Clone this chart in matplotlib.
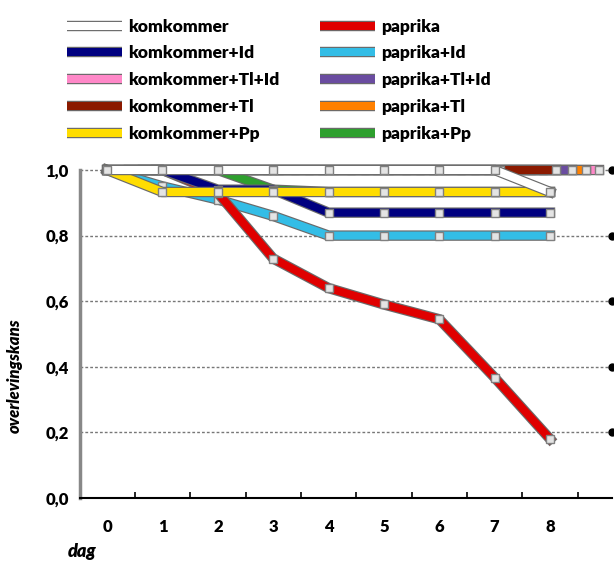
import matplotlib
matplotlib.use('Agg')
import matplotlib.pyplot as plt
import matplotlib.patheffects as pe
from matplotlib.lines import Line2D
from matplotlib.ticker import FixedLocator, FuncFormatter

plt.rcParams['font.family'] = ['Lato', 'DejaVu Sans']
plt.rcParams['font.weight'] = 'heavy'

# dagen en overlevingskans per behandeling
dagen = [0, 1, 2, 3, 4, 5, 6, 7, 8]
namen = ['komkommer', 'komkommer+Id', 'komkommer+Tl+Id', 'komkommer+Tl', 'komkommer+Pp',
         'paprika', 'paprika+Id', 'paprika+Tl+Id', 'paprika+Tl', 'paprika+Pp']
komkommer = [1, 1, 1, 1, 1, 1, 1, 1, 0.933]
komkommer_id = [1, 1, 0.94, 0.94, 0.87, 0.87, 0.87, 0.87, 0.87]
komkommer_tl_id = [1, 1, 1, 1, 1, 1, 1, 1, 1]
komkommer_tl = [1, 1, 1, 1, 1, 1, 1, 1, 1]
komkommer_pp = [1, 0.933, 0.933, 0.933, 0.933, 0.933, 0.933, 0.933, 0.933]
paprika = [1, 1, 0.93, 0.73, 0.64, 0.59, 0.545, 0.367, 0.18]
paprika_id = [1, 0.95, 0.91, 0.86, 0.8, 0.8, 0.8, 0.8, 0.8]
paprika_tl_id = [1, 1, 1, 1, 1, 1, 1, 1, 1]
paprika_tl = [1, 1, 1, 1, 1, 1, 1, 1, 1]
paprika_pp = [1, 1, 1, 0.94, 0.933, 0.933, 0.933, 0.933, 0.933]
yticks = [0.0, 0.2, 0.4, 0.6, 0.8, 1.0]

reeksen = [komkommer, komkommer_id, komkommer_tl_id, komkommer_tl, komkommer_pp,
           paprika, paprika_id, paprika_tl_id, paprika_tl, paprika_pp]
kleuren = ['#ffffff', '#000080', '#ff88c8', '#8b1a00', '#ffdd00',
           '#e00000', '#33bde6', '#6a4ca0', '#ff8000', '#2ea02e']
# diepte-verschuiving (3D effect) en tekenvolgorde, achter naar voor
diepte = [0, 0, 0.88, 0.1, 0, 0, 0, 0.4, 0.65, 0]
volgorde = [2, 8, 7, 3, 9, 6, 5, 1, 4, 0]

fig = plt.figure(figsize=(6.14, 5.66), dpi=100)
ax = fig.add_axes([80 / 614, 1 - 498 / 566, (612 - 80) / 614, (498 - 170) / 566])

rand = [pe.Stroke(linewidth=7.5, foreground='#6a6a6a'), pe.Normal()]

for i in volgorde:
    xs = [d + diepte[i] for d in dagen]
    ax.plot(xs, reeksen[i], color=kleuren[i], lw=5.8, solid_joinstyle='miter',
            path_effects=rand, clip_on=False, zorder=3)
    ax.plot(xs, reeksen[i], ls='none', marker='s', markersize=6,
            markerfacecolor='#e4e4e4', markeredgecolor='#808080',
            markeredgewidth=1, clip_on=False, zorder=3)

ax.set_xlim(-0.49, 9.12)
ax.set_ylim(0, 1.0)

for y in yticks[1:]:
    ax.axhline(y, color='#777777', lw=1, ls=(0, (2, 1.5)), zorder=1, clip_on=False)
ax.plot([9.12] * (len(yticks) - 1), yticks[1:], 'o', color='black', ms=5,
        clip_on=False, zorder=4)

for s in ['top', 'right']:
    ax.spines[s].set_visible(False)
ax.spines['left'].set_color('#888888')
ax.spines['left'].set_linewidth(2.5)
ax.spines['left'].set_linestyle((0, (1, 1)))
ax.spines['bottom'].set_linewidth(1.5)

ax.set_yticks(yticks)
ax.yaxis.set_major_formatter(FuncFormatter(lambda v, p: f'{v:.1f}'.replace('.', ',')))
ax.tick_params(axis='y', length=0, pad=8, labelsize=12)
ax.set_xticks(dagen)
ax.xaxis.set_minor_locator(FixedLocator([d + 0.5 for d in dagen]))
ax.tick_params(axis='x', which='major', length=0, pad=15, labelsize=12)
ax.tick_params(axis='x', which='minor', length=4, direction='in', width=1.2)

fig.text(15 / 614, 1 - 376 / 566, 'overlevingskans', rotation=90, ha='center',
         va='center', fontsize=12, fontstyle='italic', fontweight='heavy')
fig.text(82 / 614, 1 - 551 / 566, 'dag', ha='center', va='center', fontsize=13,
         fontstyle='italic', fontweight='heavy')

handles = [Line2D([], [], color=kleuren[i], lw=5.8, solid_capstyle='butt',
                  path_effects=[pe.Stroke(linewidth=7.5, foreground='#6a6a6a'), pe.Normal()])
           for i in range(10)]
fig.legend(handles[:5], namen[:5], loc='upper left',
           bbox_to_anchor=(51 / 614, 1 - 3 / 566), frameon=False,
           fontsize=12.5, handlelength=3.2, handletextpad=0.35, labelspacing=0.62)
fig.legend(handles[5:], namen[5:], loc='upper left',
           bbox_to_anchor=(304 / 614, 1 - 3 / 566), frameon=False,
           fontsize=12.5, handlelength=3.2, handletextpad=0.35, labelspacing=0.62)

fig.savefig('out.png', dpi=100)
